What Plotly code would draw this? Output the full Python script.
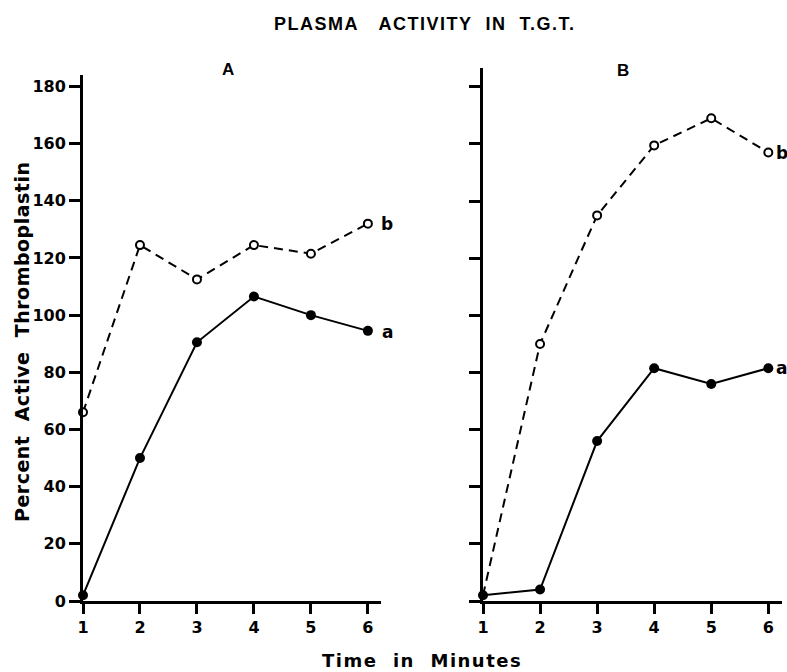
import plotly.graph_objects as go

minutes = [1, 2, 3, 4, 5, 6]
a_panelA = [2, 50, 90.5, 106.5, 100, 94.5]
b_panelA = [66, 124.5, 112.5, 124.5, 121.5, 132]
a_panelB = [2, 4, 56, 81.5, 76, 81.5]
b_panelB = [2, 90, 135, 159.5, 169, 157]
y_ticks = [0, 20, 40, 60, 80, 100, 120, 140, 160, 180]

FONT = "DejaVu Sans, Liberation Sans, Arial"
TFONT = "Liberation Sans, Arial"
NB = "\u00a0"

fig = go.Figure()

def add_series(xs, ys, xa, ya, filled, show_first=True):
    if filled:
        fig.add_trace(go.Scatter(
            x=xs, y=ys, xaxis=xa, yaxis=ya, mode="lines+markers",
            line=dict(color="black", width=2),
            marker=dict(symbol="circle", size=10, color="black"),
            cliponaxis=False, showlegend=False))
    else:
        fig.add_trace(go.Scatter(
            x=xs, y=ys, xaxis=xa, yaxis=ya, mode="lines",
            line=dict(color="black", width=2, dash="9px,6px"),
            cliponaxis=False, showlegend=False))
        start = 0 if show_first else 1
        fig.add_trace(go.Scatter(
            x=xs[start:], y=ys[start:], xaxis=xa, yaxis=ya, mode="markers",
            marker=dict(symbol="circle", size=8, color="white",
                        line=dict(color="black", width=2)),
            cliponaxis=False, showlegend=False))

add_series(minutes, a_panelA, "x", "y", True)
add_series(minutes, b_panelA, "x", "y", False)
add_series(minutes, a_panelB, "x2", "y2", True)
add_series(minutes, b_panelB, "x2", "y2", False, show_first=False)

W, H = 787, 672
y0px = 601

def xdom(l, r):
    return [l / W, r / W]

def ydom(top):
    return [1 - y0px / H, 1 - top / H]

tickfont = dict(family=FONT, size=16, color="black", weight="bold")

common_x = dict(tickvals=minutes, ticks="outside", ticklen=10, tickwidth=2.5,
                tickcolor="black", showline=True, linecolor="black", linewidth=2.5,
                showgrid=False, zeroline=False, tickfont=tickfont, automargin=False)
common_y = dict(tickvals=y_ticks, ticks="outside", ticklen=11, tickwidth=2.5,
                tickcolor="black", showline=True, linecolor="black", linewidth=3,
                showgrid=False, zeroline=False, tickfont=tickfont, automargin=False)

fig.update_layout(
    width=W, height=H,
    margin=dict(l=0, r=0, t=0, b=0, pad=0),
    paper_bgcolor="white", plot_bgcolor="white",
    xaxis=dict(domain=xdom(83, 381), range=[1, 6.23], anchor="y", **common_x),
    yaxis=dict(domain=ydom(75), range=[0, 184], anchor="x", **common_y),
    xaxis2=dict(domain=xdom(483, 782), range=[1, 6.24], anchor="y2", **common_x),
    yaxis2=dict(domain=ydom(68), range=[0, 186.6], anchor="x2",
                showticklabels=False, **common_y),
)

def pa(text, x, y, size=16, angle=0, family=FONT):
    fig.add_annotation(text=text, x=x / W, y=1 - y / H,
                       xref="paper", yref="paper", xanchor="center", yanchor="middle",
                       showarrow=False, textangle=angle,
                       font=dict(family=family, size=size, color="black", weight="bold"))

title = ('<span style="letter-spacing:1.5px">PLASMA' + NB * 3 + "ACTIVITY" + NB * 2
         + "IN" + NB * 2 + "T.G.T.</span>")
pa(title, 425, 24, size=18, family=TFONT)
pa("A", 228, 70, size=17, family=TFONT)
pa("B", 623, 71, size=17, family=TFONT)
pa("a", 387, 332, size=17)
pa("b", 387, 224, size=17)
pa("a", 781, 368, size=17)
pa("b", 782, 153, size=17)

ylab = ('<span style="letter-spacing:0.5px">'
        + (NB * 2).join(["Percent", "Active", "Thromboplastin"]) + "</span>")
pa(ylab, 22, 342, size=19, angle=-90)
xlab = ('<span style="letter-spacing:1.5px">'
        + (NB * 2).join(["Time", "in", "Minutes"]) + "</span>")
pa(xlab, 422, 660, size=18)

fig.write_html(
    "out.html",
    config={"displayModeBar": False},
    post_script="document.body.style.margin='0';document.body.style.overflow='hidden';",
)
